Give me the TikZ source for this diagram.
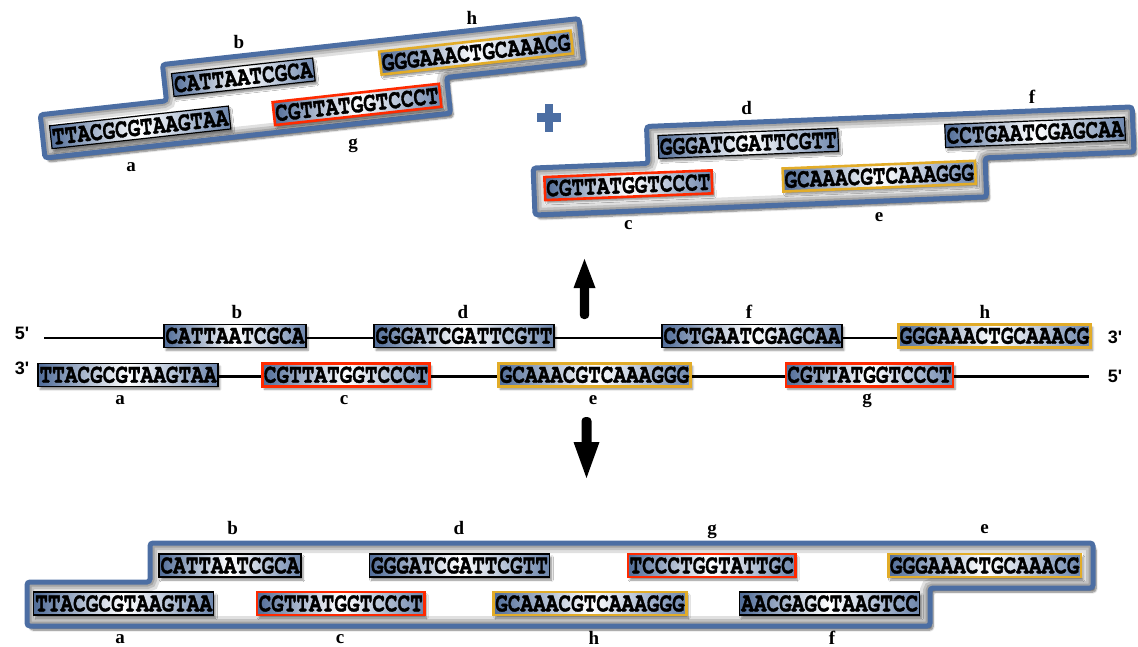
\documentclass[tikz,border=0pt]{standalone}
\usepackage{fontspec}
\setmainfont{Liberation Serif}
\newfontfamily\seqfont[FakeStretch=0.78, BoldFeatures={FakeBold=1.2}]{TeX Gyre Cursor}
\newfontfamily\endfont{Liberation Sans}
\usetikzlibrary{shadows.blur}

\definecolor{frameblue}{RGB}{76,110,163}
\definecolor{seqleft}{RGB}{80,108,152}
\definecolor{seqright}{RGB}{108,133,172}
\definecolor{oligored}{RGB}{255,42,0}
\definecolor{oligogold}{RGB}{226,172,40}

\tikzset{
  seq/.style={draw=black, line width=1.2pt,
    left color=seqleft, right color=seqright, middle color=white,
    minimum height=23pt, inner xsep=1.5pt, inner ysep=0pt,
    font=\seqfont\bfseries\fontsize{27}{27}\selectfont,
    blur shadow={shadow xshift=2pt, shadow yshift=-3pt,
                 shadow blur steps=6, shadow opacity=45}},
  redseq/.style={seq, draw=oligored, line width=2.6pt},
  goldseq/.style={seq, draw=oligogold, line width=2.6pt},
  tag/.style={font=\bfseries\fontsize{19}{19}\selectfont, inner sep=0pt},
  strandend/.style={font=\endfont\bfseries\fontsize{18}{18}\selectfont, inner sep=0pt},
  strand/.style={line width=2.4pt, black},
  bigarrow/.style={fill=black},
  plusbar/.style={fill=frameblue},
  % outlines of the three ligation products (local coordinates)
  outlineA/.style={insert path={(0,0) -- (0,-43.5) -- (127,-43.5) -- (127,-80)
      -- (546,-80) -- (546,-36) -- (408,-36) -- (408,0) -- cycle}},
  outlineB/.style={insert path={(0,0) -- (0,-47) -- (115,-47) -- (115,-84)
      -- (601,-84) -- (601,-39) -- (452,-39) -- (452,0) -- cycle}},
  outlineC/.style={insert path={(27,626) -- (27,582) -- (150,582) -- (150,543)
      -- (1093,543) -- (1093,588) -- (930,588) -- (930,626) -- cycle}},
}

% thick blue outline with a soft grey band inside and a drop shadow
\newcommand\productframe[1]{%
  \path[fill=white, rounded corners=3pt,
        blur shadow={shadow xshift=3pt, shadow yshift=-4pt,
                     shadow opacity=55, shadow blur steps=8}, #1];
  \begin{scope}
    \clip[rounded corners=3pt, #1];
    \draw[black!12, line width=20pt, rounded corners=3pt, #1];
    \draw[black!24, line width=14pt, rounded corners=3pt, #1];
    \draw[black!36, line width=9pt, rounded corners=3pt, #1];
  \end{scope}
  \draw[frameblue, line width=5pt, rounded corners=3pt, #1];
}

\begin{document}
\begin{tikzpicture}[x=1pt, y=-1pt]
\useasboundingbox (0,0) rectangle (1138,647);

% ---------- top left product ----------
\begin{scope}[shift={(45,158)}, rotate=6.3, transform shape]
  \productframe{outlineA}
  \node[seq]     (tla) at (98,-20)    {TTACGCGTAAGTAA};
  \node[seq]     (tlb) at (206,-58.5) {CATTAATCGCA};
  \node[redseq]  (tlg) at (316,-19)   {CGTTATGGTCCCT};
  \node[goldseq] (tlh) at (440,-57.5) {GGGAAACTGCAAACG};
\end{scope}
\node[tag] (tlla) at (131,166.7) {a};
\node[tag] (tllb) at (239,41.7)  {b};
\node[tag] (tllg) at (353,146)   {g};
\node[tag] (tllh) at (471.8,18)  {h};

% plus sign
\fill[plusbar] (537,113.5) rectangle (561,122.5);
\fill[plusbar] (544.5,104) rectangle (553,132);

% ---------- top right product ----------
\begin{scope}[shift={(535,215)}, rotate=2.3, transform shape]
  \productframe{outlineB}
  \node[redseq]  (trc) at (94.5,-26)  {CGTTATGGTCCCT};
  \node[seq]     (trd) at (216,-63)   {GGGATCGATTCGTT};
  \node[goldseq] (tre) at (345.5,-25) {GCAAACGTCAAAGGG};
  \node[seq]     (trf) at (503,-62.5) {CCTGAATCGAGCAA};
\end{scope}
\node[tag] (trlc) at (628.4,225.5) {c};
\node[tag] (trld) at (746.6,108.3) {d};
\node[tag] (trle) at (879,216.7)   {e};
\node[tag] (trlf) at (1032,96.7)   {f};

% ---------- annealed oligonucleotides ----------
\node[seq]     (midb) at (235,335.8)   {CATTAATCGCA};
\node[seq]     (midd) at (464,335.8)   {GGGATCGATTCGTT};
\node[seq]     (midf) at (752,335.8)   {CCTGAATCGAGCAA};
\node[goldseq] (midh) at (994.5,335.8) {GGGAAACTGCAAACG};
\node[seq]     (mida) at (128,374.8)   {TTACGCGTAAGTAA};
\node[redseq]  (midc) at (346,374.8)   {CGTTATGGTCCCT};
\node[goldseq] (mide) at (594.5,374.8) {GCAAACGTCAAAGGG};
\node[redseq]  (midg) at (869.5,374.8) {CGTTATGGTCCCT};

% the two strands, drawn between the oligos
\coordinate (topstart) at (44,338);
\coordinate (botend) at (1089,376.5);
\draw[strand] (topstart) -- (topstart -| midb.west);
\draw[strand] (midb.east |- topstart) -- (midd.west |- topstart);
\draw[strand] (midd.east |- topstart) -- (midf.west |- topstart);
\draw[strand] (midf.east |- topstart) -- (midh.west |- topstart);
\draw[strand] (mida.east |- botend) -- (midc.west |- botend);
\draw[strand] (midc.east |- botend) -- (mide.west |- botend);
\draw[strand] (mide.east |- botend) -- (midg.west |- botend);
\draw[strand] (midg.east |- botend) -- (botend);

\node[strandend] (top5) at (22,333)     {5'};
\node[strandend] (bot3) at (22,368.5)   {3'};
\node[strandend] (top3) at (1115,337.5) {3'};
\node[strandend] (bot5) at (1115,376)   {5'};

\node[tag] (midlb) at (237,311.7) {b};
\node[tag] (midld) at (463,311.7) {d};
\node[tag] (midlf) at (749,311.7) {f};
\node[tag] (midlh) at (985,311.7) {h};
\node[tag] (midla) at (120,400)   {a};
\node[tag] (midlc) at (344,400)   {c};
\node[tag] (midle) at (593,400)   {e};
\node[tag] (midlg) at (867,400.5) {g};

% block arrows
\fill[bigarrow, rounded corners=4pt] (579.8,282) -- (579.8,319) -- (589.2,319) -- (589.2,282) -- cycle;
\fill[bigarrow] (573.5,288) -- (584.5,259) -- (595.5,288) -- cycle;
\fill[bigarrow, rounded corners=4pt] (581.5,448) -- (581.5,417) -- (591.5,417) -- (591.5,448) -- cycle;
\fill[bigarrow] (573.5,442) -- (586.5,478) -- (599.5,442) -- cycle;

% ---------- bottom product ----------
\productframe{outlineC}
\node[seq]     (botb) at (230,565.5)   {CATTAATCGCA};
\node[seq]     (botd) at (459.5,565.5) {GGGATCGATTCGTT};
\node[redseq]  (botg) at (711.7,565.5) {TCCCTGGTATTGC};
\node[goldseq] (bote) at (984.7,565.5) {GGGAAACTGCAAACG};
\node[seq]     (bota) at (123.7,603.5) {TTACGCGTAAGTAA};
\node[redseq]  (botc) at (340.7,603.5) {CGTTATGGTCCCT};
\node[goldseq] (both) at (590,603.5)   {GCAAACGTCAAAGGG};
\node[seq]     (botf) at (829.7,603.5) {AACGAGCTAAGTCC};

\node[tag] (botlb) at (232.7,527.5) {b};
\node[tag] (botld) at (459,527.5)   {d};
\node[tag] (botlg) at (712,531.5)   {g};
\node[tag] (botle) at (984.6,529)   {e};
\node[tag] (botla) at (120,639)     {a};
\node[tag] (botlc) at (340,639)     {c};
\node[tag] (botlh) at (594,638)     {h};
\node[tag] (botlf) at (832,638)     {f};
\end{tikzpicture}
\end{document}
